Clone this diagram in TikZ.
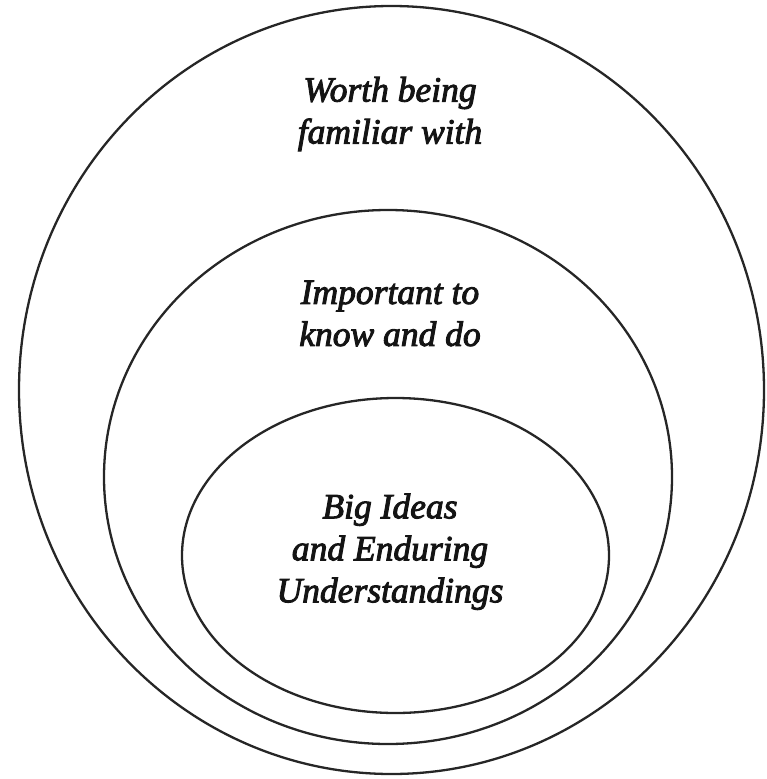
\documentclass[tikz,border=0pt]{standalone}
\usepackage{fontspec}
\setmainfont{Liberation Serif}
\newfontfamily\labelfont{Liberation Serif}[ItalicFeatures={FakeBold=2.6}]
\usetikzlibrary{shapes.geometric}

\begin{document}
\begin{tikzpicture}[x=1pt, y=-1pt,
  ring/.style={draw=black!85, line width=2.3pt, ellipse, inner sep=0pt},
  caption/.style={font=\labelfont\itshape\fontsize{35.5}{42}\selectfont,
                  align=center, text=black!92, inner sep=0pt}]
  \useasboundingbox (0,0) rectangle (767,779);

  % nested rings, outermost first
  \node[ring, minimum width=745pt, minimum height=768pt] (outer)  at (391.5,390) {};
  \node[ring, minimum width=568pt, minimum height=534pt] (middle) at (388,477)   {};
  \node[ring, minimum width=427pt, minimum height=315pt] (inner)  at (395.5,555.5) {};

  % captions, one per ring
  \node[caption] (worth) at (390,114)   {Worth being\\familiar with};
  \node[caption] (know)  at (390,313.5) {Important to\\know and do};
  \node[caption] (big)   at (390,551.75) {Big Ideas\\and Enduring\\Understandings};
\end{tikzpicture}
\end{document}
